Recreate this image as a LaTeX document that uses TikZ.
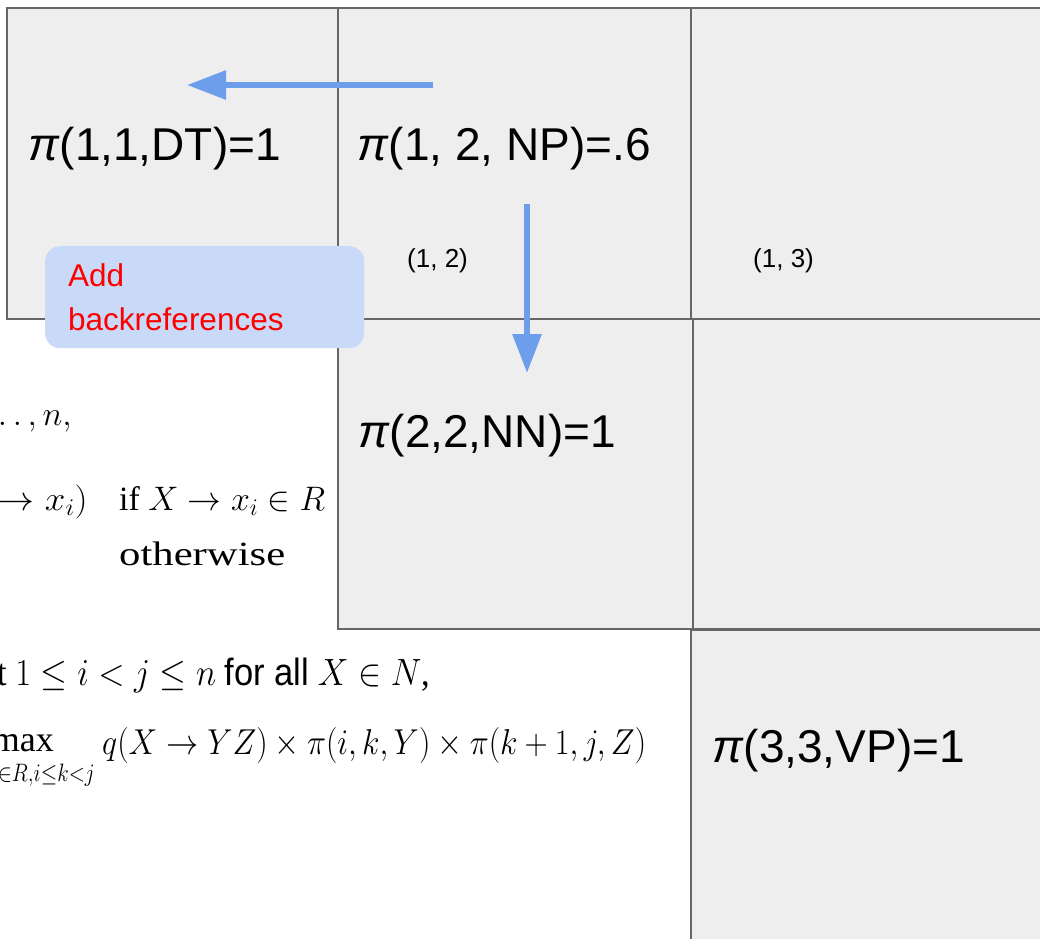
\RequirePackage{fix-cm}
\documentclass[tikz,border=0pt]{standalone}
\usepackage{fontspec}
\setmainfont{Liberation Sans}
\newfontfamily\formulafont{Liberation Serif}
\usepackage{graphicx}
\usepackage{amsmath}
\usepackage{tikz}
\usetikzlibrary{arrows.meta}

\definecolor{cellgray}{HTML}{EEEEEE}
\definecolor{gridgray}{HTML}{666666}
\definecolor{backblue}{HTML}{6D9EEB}
\definecolor{notefill}{HTML}{C9DAF8}
\definecolor{notered}{HTML}{FF0000}

% squeeze or widen a fragment to a given width, keep its height
\newcommand{\fitfrag}[2]{\resizebox{#1}{\height}{#2}}

\begin{document}
\begin{tikzpicture}[x=1pt, y=-1pt]

  \tikzset{
    cellbox/.style 2 args={rectangle, draw=gridgray, fill=cellgray,
      line width=1.5pt, anchor=north west, inner sep=0pt,
      minimum width=#1, minimum height=#2},
    cellval/.style={anchor=base west, inner sep=0pt,
      font=\fontsize{46}{52}\selectfont},
    spanlabel/.style={anchor=base west, inner sep=0pt,
      font=\fontsize{26}{30}\selectfont},
    formula/.style={inner sep=0pt, font=\formulafont\fontsize{#1}{40}\selectfont},
    formula/.default=34,
    notebox/.style={rectangle, rounded corners=15pt, fill=notefill,
      text=notered, anchor=north west, align=left, text width=273pt,
      inner xsep=23pt, inner ysep=0pt, minimum height=102pt,
      font=\fontsize{31.5}{44}\selectfont},
    backarrow/.style={-{Triangle[length=39pt, width=28pt]},
      line width=6pt, backblue}
  }

  \useasboundingbox (0,0) rectangle (1040,938);
  \clip (0,0) rectangle (1040,938);

  % formula fragments behind the chart
  \node[formula, anchor=base east] (f1) at (72,425) {$\ldots, n,$};
  \node[formula, anchor=base east] (f2) at (88,510) {\fitfrag{90pt}{$\to x_i)$}};
  \node[formula, anchor=base west] (f3) at (119,510) {\fitfrag{206pt}{if $X \to x_i \in R$}};
  \node[formula, anchor=base west] (f4) at (119,565) {\fitfrag{166pt}{otherwise}};
  \node[formula=38, anchor=base west] (f5) at (-3,685)
    {\fitfrag{433pt}{t $1 \le i < j \le n$ {\normalfont for all} $X \in N$,}};
  \node[formula=36, anchor=base east] (f6) at (54,751) {max};
  \node[formula=36, anchor=base east] (f7) at (95,781)
    {\fitfrag{97pt}{$\scriptstyle \in R, i \le k < j$}};
  \node[formula=36, anchor=base west] (f8) at (102,754)
    {\fitfrag{544pt}{$q(X \to YZ) \times \pi(i, k, Y) \times \pi(k + 1, j, Z)$}};

  % chart cells
  \node[cellbox={331pt}{311pt}] (c11) at (6,7) {};
  \node[cellbox={353pt}{311pt}] (c12) at (337,7) {};
  \node[cellbox={400pt}{311pt}] (c13) at (690,7) {};
  \node[cellbox={355pt}{310pt}] (c22) at (337,318) {};
  \node[cellbox={400pt}{310pt}] (c23) at (692,318) {};
  \node[cellbox={400pt}{340pt}] (c33) at (690,629) {};
  \draw[gridgray, line width=1.5pt] (656,629) -- (c33.north west);

  % cell values
  \node[cellval] (v11) at (28,160) {\textit{π}(1,1,DT)=1};
  \node[cellval] (v12) at (357,160) {\textit{π}(1, 2, NP)=.6};
  \node[cellval] (v22) at (358,447) {\textit{π}(2,2,NN)=1};
  \node[cellval] (v33) at (712,762) {\textit{π}(3,3,VP)=1};

  % span labels
  \node[spanlabel] (s12) at (407,267) {(1, 2)};
  \node[spanlabel] (s13) at (753,267) {(1, 3)};

  % backreference arrows
  \coordinate (b12from) at (433,85);
  \coordinate (b12to) at (187,85);
  \coordinate (b22from) at (527,204);
  \coordinate (b22to) at (527,373);
  \draw[backarrow] (b12from) -- (b12to);
  \draw[backarrow] (b22from) -- (b22to);

  \node[notebox] (note) at (45,246) {Add\\backreferences};

\end{tikzpicture}
\end{document}
